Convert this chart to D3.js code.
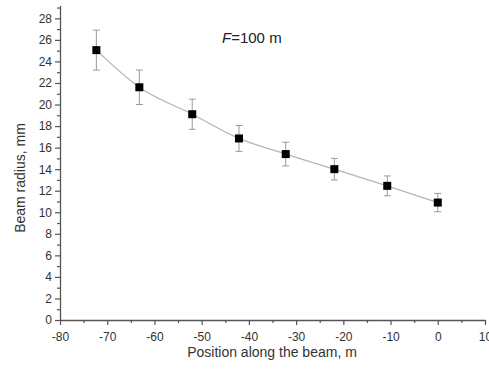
<!DOCTYPE html>
<html>
<head>
<meta charset="utf-8">
<script src="https://cdn.jsdelivr.net/npm/d3@7"></script>
<style>
  body { margin: 0; background: #fff; }
  svg { display: block; font-family: "Liberation Sans", Arial, sans-serif; }
</style>
</head>
<body>
<svg id="chart"></svg>
<script>
// data
var positions = [-72.3, -63.2, -52, -42.1, -32.2, -21.9, -10.7, 0];
var radius    = [25.05, 21.6, 19.1, 16.85, 15.4, 14.0, 12.45, 10.9];
var errors    = [1.85, 1.6, 1.4, 1.2, 1.1, 1.0, 0.92, 0.85];
var xTicks = [-80, -70, -60, -50, -40, -30, -20, -10, 0, 10];
var yTicks = [0, 2, 4, 6, 8, 10, 12, 14, 16, 18, 20, 22, 24, 26, 28];

var W = 489, H = 371;
var svg = d3.select("#chart").attr("width", W).attr("height", H);

var x = d3.scaleLinear().domain([-80, 10]).range([60, 485]);
var y = d3.scaleLinear().domain([0, 29.2]).range([320, 5.4]);

var axisCol = "#555", textCol = "#333";
var fmt = function (d) { return String(d); }; // plain hyphen minus like the original

// x axis
var gx = svg.append("g").attr("transform", "translate(0,320)");
gx.call(d3.axisBottom(x).tickValues(xTicks).tickSize(5).tickSizeOuter(0).tickFormat(fmt));
gx.append("g").call(d3.axisBottom(x).tickValues(d3.range(-75, 10, 10)).tickSize(3).tickFormat(""))
  .select(".domain").remove();

// y axis
var gy = svg.append("g").attr("transform", "translate(60,0)");
gy.call(d3.axisLeft(y).tickValues(yTicks).tickSize(5).tickSizeOuter(0).tickFormat(fmt));
gy.append("g").call(d3.axisLeft(y).tickValues(d3.range(1, 30, 2)).tickSize(3).tickFormat(""))
  .select(".domain").remove();

svg.selectAll(".domain").attr("stroke", axisCol).attr("stroke-width", 1.3);
svg.selectAll(".tick line").attr("stroke", axisCol).attr("stroke-width", 1.2);
svg.selectAll(".tick text").attr("fill", textCol).style("font-size", "12px")
  .style("font-family", "'Liberation Sans', Arial, sans-serif");
gx.selectAll(".tick text").attr("dy", "1.05em");

// connecting line
var pts = positions.map(function (p, i) { return [p, radius[i], errors[i]]; });
svg.append("path")
  .datum(pts)
  .attr("fill", "none")
  .attr("stroke", "#b5b5b5")
  .attr("stroke-width", 1.3)
  .attr("d", d3.line().x(function (d) { return x(d[0]); }).y(function (d) { return y(d[1]); }).curve(d3.curveMonotoneX));

// error bars
var eb = svg.append("g").attr("stroke", "#9a9a9a").attr("stroke-width", 1);
eb.selectAll("line.v").data(pts).enter().append("line")
  .attr("x1", function (d) { return x(d[0]); }).attr("x2", function (d) { return x(d[0]); })
  .attr("y1", function (d) { return y(d[1] + d[2]); }).attr("y2", function (d) { return y(d[1] - d[2]); });
eb.selectAll("line.t").data(pts).enter().append("line")
  .attr("x1", function (d) { return x(d[0]) - 3.5; }).attr("x2", function (d) { return x(d[0]) + 3.5; })
  .attr("y1", function (d) { return y(d[1] + d[2]); }).attr("y2", function (d) { return y(d[1] + d[2]); });
eb.selectAll("line.b").data(pts).enter().append("line")
  .attr("x1", function (d) { return x(d[0]) - 3.5; }).attr("x2", function (d) { return x(d[0]) + 3.5; })
  .attr("y1", function (d) { return y(d[1] - d[2]); }).attr("y2", function (d) { return y(d[1] - d[2]); });

// markers
svg.selectAll("rect.pt").data(pts).enter().append("rect")
  .attr("x", function (d) { return x(d[0]) - 4; })
  .attr("y", function (d) { return y(d[1]) - 4; })
  .attr("width", 8).attr("height", 8)
  .attr("fill", "#000");

// labels
svg.append("text")
  .attr("x", 272).attr("y", 357)
  .attr("text-anchor", "middle")
  .attr("fill", textCol).style("font-size", "14px")
  .text("Position along the beam, m");

svg.append("text")
  .attr("transform", "translate(25,178) rotate(-90)")
  .attr("text-anchor", "middle")
  .attr("fill", textCol).style("font-size", "14px")
  .text("Beam radius, mm");

var ft = svg.append("text")
  .attr("x", 222).attr("y", 43)
  .attr("fill", "#222").style("font-size", "15px");
ft.append("tspan").style("font-style", "italic").text("F");
ft.append("tspan").text("=100 m");
</script>
</body>
</html>
